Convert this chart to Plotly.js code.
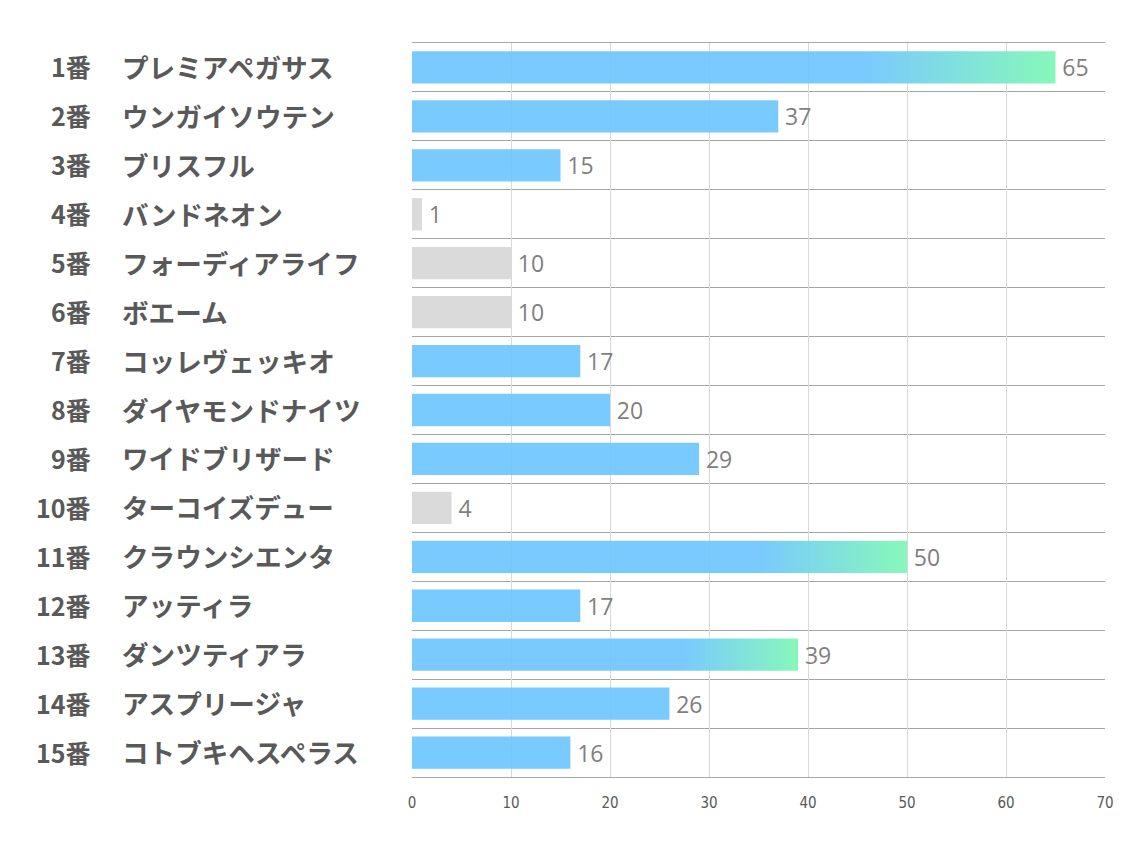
<!DOCTYPE html>
<html>
<head>
<meta charset="utf-8">
<script src="https://cdn.plot.ly/plotly-3.0.1.min.js"></script>
<style>html,body{margin:0;padding:0;background:#fff;}#chart{width:1134px;height:850px;}</style>
</head>
<body>
<div id="chart"></div>
<script>
const horseNumbers = ["1番","2番","3番","4番","5番","6番","7番","8番","9番","10番","11番","12番","13番","14番","15番"];
const horseNames = ["プレミアペガサス","ウンガイソウテン","ブリスフル","バンドネオン","フォーディアライフ","ボエーム","コッレヴェッキオ","ダイヤモンドナイツ","ワイドブリザード","ターコイズデュー","クラウンシエンタ","アッティラ","ダンツティアラ","アスプリージャ","コトブキヘスペラス"];
const scores = [65,37,15,1,10,10,17,20,29,4,50,17,39,26,16];
// bar style group: "g" = gradient, "b" = blue, "n" = gray
const barGroup = ["g","b","b","n","n","n","b","b","b","n","g","b","g","b","b"];
const xTicks = [0,10,20,30,40,50,60,70];

const BLUE = "rgb(110,197,255)";
const GRAY = "rgb(215,215,215)";
const GREEN = "rgb(124,247,180)";
const idx = scores.map((_, i) => i);
const colors = barGroup.map(g => g === "n" ? GRAY : BLUE);

const trace = {
  type: "bar",
  orientation: "h",
  x: scores,
  y: idx,
  width: 0.66,
  marker: {color: colors, opacity: 0.92, line: {width: 0}},
  text: scores.map(v => "\u2009" + v),
  textposition: "outside",
  cliponaxis: false,
  textfont: {family: "Open Sans, Noto Sans, sans-serif", size: 23, color: "#7f7f7f"},
  hoverinfo: "none"
};

const annotations = [];
idx.forEach(i => {
  annotations.push({xref: "paper", yref: "y", x: 0, y: i, xshift: -319, yshift: 1, xanchor: "right", yanchor: "middle",
    text: horseNumbers[i], showarrow: false,
    font: {family: "Noto Sans CJK JP, sans-serif", size: 25, color: "#595959", weight: "bold"}});
  annotations.push({xref: "paper", yref: "y", x: 0, y: i, xshift: -292, yshift: 1, xanchor: "left", yanchor: "middle",
    text: horseNames[i], showarrow: false,
    font: {family: "Noto Sans CJK JP, sans-serif", size: 26.6, color: "#595959", weight: "bold"}});
});

const layout = {
  width: 1134, height: 850,
  margin: {l: 412, r: 29, t: 43, b: 73},
  paper_bgcolor: "#fff", plot_bgcolor: "#fff",
  showlegend: false,
  xaxis: {range: [0, 70], tickvals: xTicks, ticktext: xTicks.map(String),
    showgrid: true, gridcolor: "#d9d9d9", gridwidth: 1, zeroline: false,
    showline: true, linecolor: "#a6a6a6", linewidth: 1, mirror: true,
    ticks: "", ticklabelstandoff: 12,
    tickfont: {family: "Liberation Sans Narrow, DejaVu Sans Condensed, sans-serif", size: 15, color: "#595959"},
    fixedrange: true},
  yaxis: {range: [14.5, -0.5], showticklabels: false, showgrid: false, zeroline: false,
    showline: false, ticks: "",
    minor: {tick0: 0.5, dtick: 1, showgrid: true, gridcolor: "#a6a6a6", gridwidth: 1, ticks: ""},
    fixedrange: true},
  annotations: annotations
};

Plotly.newPlot("chart", [trace], layout, {displayModeBar: false, staticPlot: true}).then(gd => {
  const svg = gd.querySelector("svg.main-svg");
  const ns = "http://www.w3.org/2000/svg";
  let defs = svg.querySelector("defs");
  if (!defs) { defs = document.createElementNS(ns, "defs"); svg.insertBefore(defs, svg.firstChild); }
  const grad = document.createElementNS(ns, "linearGradient");
  grad.setAttribute("id", "barGrad");
  grad.setAttribute("x1", "0"); grad.setAttribute("x2", "1");
  grad.setAttribute("y1", "0"); grad.setAttribute("y2", "0");
  [[0, BLUE], [0.7, BLUE], [1, GREEN]].forEach(([o, c]) => {
    const s = document.createElementNS(ns, "stop");
    s.setAttribute("offset", o); s.setAttribute("stop-color", c);
    grad.appendChild(s);
  });
  defs.appendChild(grad);
  const paths = gd.querySelectorAll(".barlayer .trace .point path");
  paths.forEach((p, i) => {
    if (barGroup[i] === "g") p.style.fill = "url(#barGrad)";
  });
});
</script>
</body>
</html>
